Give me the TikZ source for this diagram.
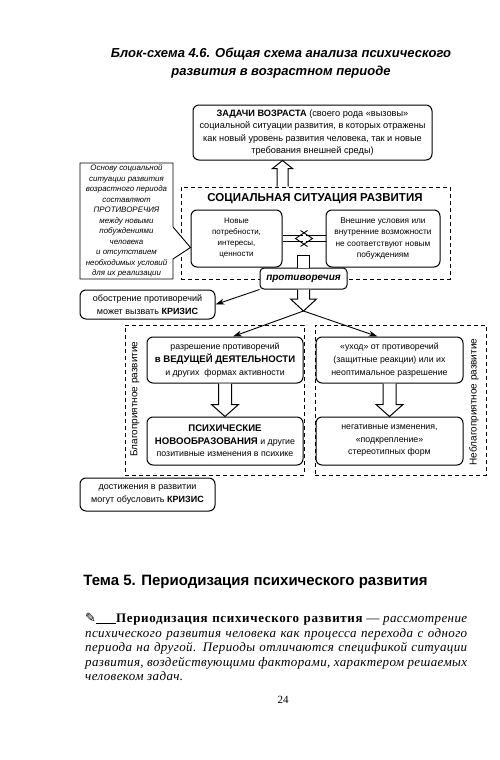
\documentclass[tikz,border=0pt]{standalone}
\usepackage{fontspec}
\setmainfont{Liberation Serif}
\setsansfont{Liberation Sans}
\newfontfamily\symfont{DejaVu Sans}
\usetikzlibrary{arrows.meta,calc}

\newcommand{\blkdown}[5]{%
  \draw[harrow] let \p1=(#1), \p2=(#2) in
    (\x1-#3pt,\y1) -- (\x1-#3pt,\y2+#5pt) -- (\x1-#4pt,\y2+#5pt) -- (\x1,\y2)
    -- (\x1+#4pt,\y2+#5pt) -- (\x1+#3pt,\y2+#5pt) -- (\x1+#3pt,\y1);
}
\newcommand{\blkup}[5]{%
  \draw[harrow] let \p1=(#1), \p2=(#2) in
    (\x1-#3pt,\y1) -- (\x1-#3pt,\y2-#5pt) -- (\x1-#4pt,\y2-#5pt) -- (\x1,\y2)
    -- (\x1+#4pt,\y2-#5pt) -- (\x1+#3pt,\y2-#5pt) -- (\x1+#3pt,\y1);
}

\tikzset{
  box/.style={draw, rounded corners=6pt, line width=1pt, fill=white, align=center,
    inner sep=1pt, font=\sffamily\fontsize{8.5}{12.5}\selectfont},
  dbox/.style={draw, dash pattern=on 4pt off 3pt, line width=0.8pt},
  harrow/.style={draw, line width=1pt, fill=white, line join=miter},
  conn/.style={line width=0.9pt, -{Stealth[length=9pt,width=6pt]}},
  plain/.style={line width=0.9pt},
}

\begin{document}
\begin{tikzpicture}[x=1pt,y=-1pt]
\useasboundingbox[fill=white] (0,0) rectangle (500,760);

% title
\node[font=\sffamily\bfseries\itshape\fontsize{13}{18}\selectfont, align=center] (title) at (281,63)
  {Блок-схема 4.6. Общая схема анализа психического\\развития в возрастном периоде};

% top box
\node[box, minimum width=239pt, minimum height=55pt, font=\sffamily\fontsize{9.2}{12.5}\selectfont] (zad) at (312.5,132.5)
  {\textbf{ЗАДАЧИ ВОЗРАСТА} (своего рода «вызовы»\\социальной ситуации развития, в которых отражены\\как новый уровень развития человека, так и новые\\требования внешней среды)};

% social situation dashed box
\node[dbox, minimum width=269pt, minimum height=92pt] (ssr) at (315.5,233) {};
\node[font=\sffamily\bfseries\fontsize{11.5}{14}\selectfont] (ssrt) at (315,199) {СОЦИАЛЬНАЯ СИТУАЦИЯ РАЗВИТИЯ};

\node[box, minimum width=91pt, minimum height=57pt, font=\sffamily\fontsize{8}{11}\selectfont] (nov) at (236.5,238.5)
  {Новые\\потребности,\\интересы,\\ценности};
\node[box, minimum width=114pt, minimum height=57pt, font=\sffamily\fontsize{8.3}{11.3}\selectfont] (vnesh) at (383,238.5)
  {Внешние условия или\\внутренние возможности\\не соответствуют новым\\побуждениям};

% crossing arrows
\draw[plain] ([yshift=3pt]nov.east) -- ++(20,0) ([yshift=-3pt]nov.east) -- ++(20,0);
\draw[plain] ($(nov.east)+(18,-8)$) -- ($(nov.east)+(30,0)$) -- ($(nov.east)+(18,8)$);
\draw[plain] ([yshift=3pt]vnesh.west) -- ++(-20,0) ([yshift=-3pt]vnesh.west) -- ++(-20,0);
\draw[plain] ($(vnesh.west)+(-18,-8)$) -- ($(vnesh.west)+(-30,0)$) -- ($(vnesh.west)+(-18,8)$);

% up arrow to top box
\blkup{ssr.north -| nov.east}{zad.south -| nov.east}{5.5}{10}{8}

% contradictions box
\node[box, minimum width=87pt, minimum height=21pt, rounded corners=4pt,
  font=\sffamily\bfseries\itshape\fontsize{10}{12}\selectfont] (protiv) at (303.5,278.5) {противоречия};
\draw[harrow] ([xshift=-6pt]protiv.north) -- ++(0,-12) -- ++(12,0) -- ++(0,12);

% callout
\coordinate (ctip) at ([yshift=-9pt]nov.west);
\draw[line width=0.9pt, fill=white] (80,163) -- (173,163) -- (173,227) -- (ctip) -- (173,259) -- (173,279) -- (80,279) -- cycle;
\node[align=center, font=\sffamily\itshape\fontsize{7.9}{10.5}\selectfont, inner sep=0] (callout) at (126.5,221)
  {Основу социальной\\ситуации развития\\возрастного периода\\составляют\\ПРОТИВОРЕЧИЯ\\между новыми\\побуждениями\\человека\\и отсутствием\\необходимых условий\\для их реализации};

% crisis box
\node[box, minimum width=135pt, minimum height=29pt, font=\sffamily\fontsize{9}{13}\selectfont] (obostr) at (147.5,304.5)
  {обострение противоречий\\может вызвать \textbf{КРИЗИС}};

% lower dashed boxes
\node[dbox, minimum width=179pt, minimum height=150pt] (blag) at (214.5,400) {};
\node[dbox, minimum width=171pt, minimum height=150pt] (nebl) at (400.5,400) {};
\node[rotate=90, font=\sffamily\fontsize{10}{12}\selectfont] (blagl) at (135,399) {Благоприятное развитие};
\node[rotate=90, font=\sffamily\fontsize{10}{12}\selectfont] (nebll) at (474,402) {Неблагоприятное развитие};

\node[box, minimum width=156pt, minimum height=46pt, font=\sffamily\fontsize{8.8}{13}\selectfont] (razr) at (225,360)
  {разрешение противоречий\\{\bfseries\fontsize{9.6}{13}\selectfont в ВЕДУЩЕЙ ДЕЯТЕЛЬНОСТИ}\\и других \ формах активности};
\node[box, minimum width=156pt, minimum height=48pt, font=\sffamily\fontsize{8.8}{12.5}\selectfont] (psih) at (225,441)
  {{\bfseries\fontsize{9.6}{12.5}\selectfont ПСИХИЧЕСКИЕ}\\{\bfseries\fontsize{9.6}{12.5}\selectfont НОВООБРАЗОВАНИЯ} и другие\\позитивные изменения в психике};
\node[box, minimum width=147pt, minimum height=46pt, font=\sffamily\fontsize{8.8}{13}\selectfont] (ukhod) at (389.5,360)
  {«уход» от противоречий\\(защитные реакции) или их\\неоптимальное разрешение};
\node[box, minimum width=147pt, minimum height=48pt, font=\sffamily\fontsize{8.8}{12.5}\selectfont] (negat) at (389.5,441)
  {негативные изменения,\\«подкрепление»\\стереотипных форм};

\node[box, minimum width=135pt, minimum height=33pt, font=\sffamily\fontsize{9}{13}\selectfont] (dostizh) at (147.5,494.5)
  {достижения в развитии\\могут обусловить \textbf{КРИЗИС}};

% arrows
\coordinate (split) at (303.5,311);
\blkdown{protiv.south}{split}{6}{13}{12}
\draw[conn] (split) -- ([xshift=8pt]razr.north);
\draw[conn] (split) -- ([xshift=-12pt]ukhod.north);
\draw[conn] (protiv.south west) -- (obostr.east);
\blkdown{razr.south}{psih.north}{6.5}{13.5}{12}
\blkdown{ukhod.south}{negat.north}{6.5}{13.5}{12}

% lower text
\node[font=\sffamily\bfseries\fontsize{15}{18}\selectfont] (tema) at (255.5,582) {Тема 5. Периодизация психического развития};

\node[anchor=north west, text width=382pt, inner sep=0pt, align=justify, font=\fontsize{13}{14.6}\selectfont] (para) at (85,613)
  {{\symfont\char"270E}\rule[-1pt]{20pt}{0.6pt}{\bfseries\addfontfeature{LetterSpace=5}Периодизация психического развития} — {\itshape\addfontfeature{LetterSpace=3}рассмотрение}\linebreak
  {\itshape\addfontfeature{LetterSpace=3}психического развития человека как процесса перехода с одного\linebreak периода на другой. Периоды отличаются спецификой ситуации\linebreak развития, воздействующими факторами, характером решаемых\linebreak человеком задач.}};

\node[font=\fontsize{11}{13}\selectfont] (pg) at (283,700) {24};
\end{tikzpicture}
\end{document}
